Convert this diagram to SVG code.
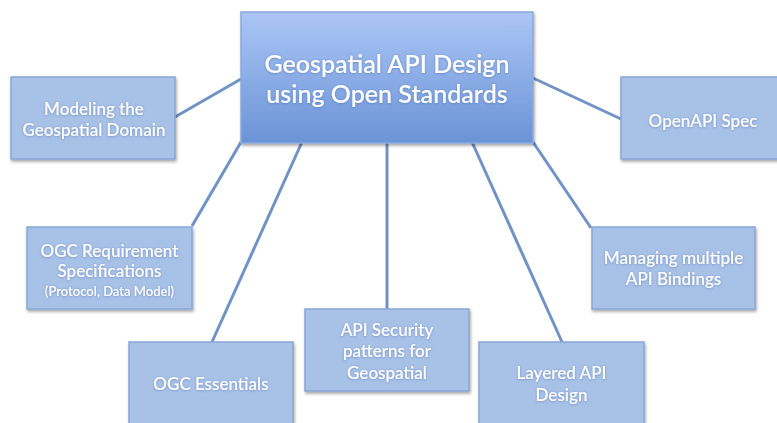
<svg xmlns="http://www.w3.org/2000/svg" width="777" height="423" viewBox="0 0 777 423">
<defs>
<linearGradient id="cg" x1="0" y1="0" x2="0" y2="1">
<stop offset="0" stop-color="#abc6f6"/>
<stop offset="1" stop-color="#6b93d6"/>
</linearGradient>
<filter id="sh" x="-10%" y="-10%" width="125%" height="130%">
<feDropShadow dx="1" dy="2" stdDeviation="1.5" flood-color="#000" flood-opacity="0.35"/>
</filter>
<filter id="glow" x="-10%" y="-30%" width="120%" height="160%">
<feDropShadow dx="0" dy="0.5" stdDeviation="0.8" flood-color="#2c4f8a" flood-opacity="0.45"/>
</filter>
</defs>
<style>
.box{fill:#a8c1e7;stroke:#89a6d6;stroke-width:1.5;filter:url(#sh)}
.center{fill:url(#cg);stroke:#8aa9dc;stroke-width:1.5;filter:url(#sh)}
.t{font-family:Lato,"Liberation Sans",sans-serif;fill:#fbfcff;text-anchor:middle;font-size:17px;font-weight:600;filter:url(#glow)}
.tc{font-size:25px}
.ts{font-size:13px}
.conn line{stroke:#7192c6;stroke-width:3;fill:none}
</style>
<rect width="777" height="423" fill="#ffffff"/>
<g id="connectors" class="conn">
<line x1="175" y1="117" x2="241" y2="79"/>
<line x1="192" y1="226" x2="241" y2="142"/>
<line x1="302" y1="142" x2="212" y2="342"/>
<line x1="387" y1="142" x2="387" y2="309"/>
<line x1="472" y1="142" x2="562" y2="342"/>
<line x1="533" y1="142" x2="591" y2="228"/>
<line x1="533" y1="78" x2="621" y2="119"/>
</g>
<g id="n_center">
<rect class="center" x="241" y="12" width="292" height="131"/>
<text class="t tc" x="387" y="73">Geospatial API Design</text>
<text class="t tc" x="387" y="103">using Open Standards</text>
</g>
<g id="n_modeling">
<rect class="box" x="11" y="77" width="164" height="82"/>
<text class="t" x="94" y="115">Modeling the</text>
<text class="t" x="94" y="136">Geospatial Domain</text>
</g>
<g id="n_ogcreq">
<rect class="box" x="27" y="227" width="165" height="82"/>
<text class="t" x="109.5" y="257">OGC Requirement</text>
<text class="t" x="109.5" y="277">Specifications</text>
<text class="t ts" x="109.5" y="296">(Protocol, Data Model)</text>
</g>
<g id="n_ogcess">
<rect class="box" x="129" y="342" width="164" height="90"/>
<text class="t" x="211" y="390">OGC Essentials</text>
</g>
<g id="n_security">
<rect class="box" x="305" y="309" width="164" height="82"/>
<text class="t" x="387" y="336">API Security</text>
<text class="t" x="387" y="357">patterns for</text>
<text class="t" x="387" y="379">Geospatial</text>
</g>
<g id="n_layered">
<rect class="box" x="479" y="342" width="165" height="90"/>
<text class="t" x="561.5" y="379">Layered API</text>
<text class="t" x="561.5" y="401">Design</text>
</g>
<g id="n_managing">
<rect class="box" x="592" y="227" width="163" height="82"/>
<text class="t" x="673.5" y="264">Managing multiple</text>
<text class="t" x="673.5" y="285">API Bindings</text>
</g>
<g id="n_openapi">
<rect class="box" x="621" y="77" width="164" height="82"/>
<text class="t" x="703" y="127">OpenAPI Spec</text>
</g>
</svg>
